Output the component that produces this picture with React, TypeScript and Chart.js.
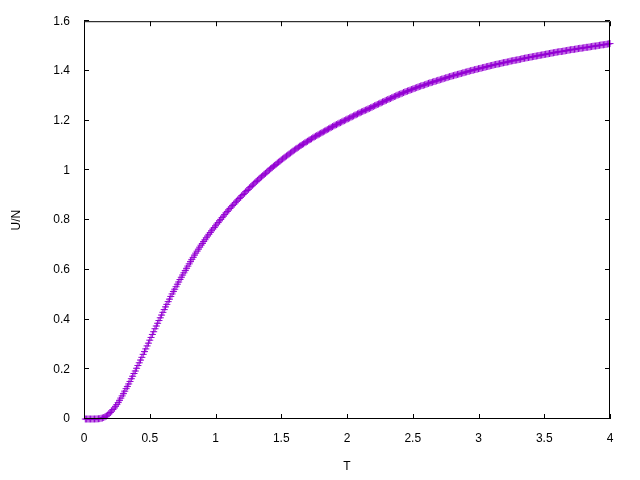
import React, { useEffect, useRef } from "react";
import { Chart, registerables } from "chart.js";

Chart.register(...registerables);

const T_VALUES = [
  0.01, 0.02, 0.03, 0.04, 0.05, 0.06, 0.07, 0.08, 0.09, 0.10,
  0.11, 0.12, 0.13, 0.14, 0.15, 0.16, 0.17, 0.18, 0.19, 0.20,
  0.21, 0.22, 0.23, 0.24, 0.25, 0.26, 0.27, 0.28, 0.29, 0.30,
  0.31, 0.32, 0.33, 0.34, 0.35, 0.36, 0.37, 0.38, 0.39, 0.40,
  0.41, 0.42, 0.43, 0.44, 0.45, 0.46, 0.47, 0.48, 0.49, 0.50,
  0.51, 0.52, 0.53, 0.54, 0.55, 0.56, 0.57, 0.58, 0.59, 0.60,
  0.61, 0.62, 0.63, 0.64, 0.65, 0.66, 0.67, 0.68, 0.69, 0.70,
  0.71, 0.72, 0.73, 0.74, 0.75, 0.76, 0.77, 0.78, 0.79, 0.80,
  0.81, 0.82, 0.83, 0.84, 0.85, 0.86, 0.87, 0.88, 0.89, 0.90,
  0.91, 0.92, 0.93, 0.94, 0.95, 0.96, 0.97, 0.98, 0.99, 1.00,
  1.01, 1.02, 1.03, 1.04, 1.05, 1.06, 1.07, 1.08, 1.09, 1.10,
  1.11, 1.12, 1.13, 1.14, 1.15, 1.16, 1.17, 1.18, 1.19, 1.20,
  1.21, 1.22, 1.23, 1.24, 1.25, 1.26, 1.27, 1.28, 1.29, 1.30,
  1.31, 1.32, 1.33, 1.34, 1.35, 1.36, 1.37, 1.38, 1.39, 1.40,
  1.41, 1.42, 1.43, 1.44, 1.45, 1.46, 1.47, 1.48, 1.49, 1.50,
  1.51, 1.52, 1.53, 1.54, 1.55, 1.56, 1.57, 1.58, 1.59, 1.60,
  1.61, 1.62, 1.63, 1.64, 1.65, 1.66, 1.67, 1.68, 1.69, 1.70,
  1.71, 1.72, 1.73, 1.74, 1.75, 1.76, 1.77, 1.78, 1.79, 1.80,
  1.81, 1.82, 1.83, 1.84, 1.85, 1.86, 1.87, 1.88, 1.89, 1.90,
  1.91, 1.92, 1.93, 1.94, 1.95, 1.96, 1.97, 1.98, 1.99, 2.00,
  2.01, 2.02, 2.03, 2.04, 2.05, 2.06, 2.07, 2.08, 2.09, 2.10,
  2.11, 2.12, 2.13, 2.14, 2.15, 2.16, 2.17, 2.18, 2.19, 2.20,
  2.21, 2.22, 2.23, 2.24, 2.25, 2.26, 2.27, 2.28, 2.29, 2.30,
  2.31, 2.32, 2.33, 2.34, 2.35, 2.36, 2.37, 2.38, 2.39, 2.40,
  2.41, 2.42, 2.43, 2.44, 2.45, 2.46, 2.47, 2.48, 2.49, 2.50,
  2.51, 2.52, 2.53, 2.54, 2.55, 2.56, 2.57, 2.58, 2.59, 2.60,
  2.61, 2.62, 2.63, 2.64, 2.65, 2.66, 2.67, 2.68, 2.69, 2.70,
  2.71, 2.72, 2.73, 2.74, 2.75, 2.76, 2.77, 2.78, 2.79, 2.80,
  2.81, 2.82, 2.83, 2.84, 2.85, 2.86, 2.87, 2.88, 2.89, 2.90,
  2.91, 2.92, 2.93, 2.94, 2.95, 2.96, 2.97, 2.98, 2.99, 3.00,
  3.01, 3.02, 3.03, 3.04, 3.05, 3.06, 3.07, 3.08, 3.09, 3.10,
  3.11, 3.12, 3.13, 3.14, 3.15, 3.16, 3.17, 3.18, 3.19, 3.20,
  3.21, 3.22, 3.23, 3.24, 3.25, 3.26, 3.27, 3.28, 3.29, 3.30,
  3.31, 3.32, 3.33, 3.34, 3.35, 3.36, 3.37, 3.38, 3.39, 3.40,
  3.41, 3.42, 3.43, 3.44, 3.45, 3.46, 3.47, 3.48, 3.49, 3.50,
  3.51, 3.52, 3.53, 3.54, 3.55, 3.56, 3.57, 3.58, 3.59, 3.60,
  3.61, 3.62, 3.63, 3.64, 3.65, 3.66, 3.67, 3.68, 3.69, 3.70,
  3.71, 3.72, 3.73, 3.74, 3.75, 3.76, 3.77, 3.78, 3.79, 3.80,
  3.81, 3.82, 3.83, 3.84, 3.85, 3.86, 3.87, 3.88, 3.89, 3.90,
  3.91, 3.92, 3.93, 3.94, 3.95, 3.96, 3.97, 3.98, 3.99, 4.00,
];

const U_VALUES = [
  0, 0, 0, 0, 0, 0, 0, 0.0001, 0.0003, 0.0005,
  0.001, 0.0015, 0.003, 0.004, 0.006, 0.009, 0.012, 0.016, 0.021, 0.026,
  0.032, 0.038, 0.044, 0.051, 0.058, 0.066, 0.075, 0.084, 0.093, 0.102,
  0.112, 0.122, 0.131, 0.141, 0.151, 0.162, 0.172, 0.183, 0.193, 0.204,
  0.215, 0.226, 0.237, 0.248, 0.260, 0.271, 0.282, 0.294, 0.305, 0.317,
  0.328, 0.340, 0.351, 0.363, 0.374, 0.385, 0.396, 0.407, 0.418, 0.429,
  0.440, 0.451, 0.461, 0.472, 0.482, 0.493, 0.503, 0.513, 0.522, 0.532,
  0.542, 0.551, 0.561, 0.570, 0.579, 0.588, 0.597, 0.606, 0.615, 0.624,
  0.633, 0.642, 0.650, 0.659, 0.667, 0.675, 0.683, 0.691, 0.699, 0.706,
  0.714, 0.721, 0.729, 0.736, 0.743, 0.750, 0.757, 0.764, 0.770, 0.777,
  0.784, 0.790, 0.797, 0.803, 0.810, 0.816, 0.822, 0.829, 0.835, 0.841,
  0.847, 0.853, 0.859, 0.864, 0.870, 0.876, 0.881, 0.887, 0.892, 0.898,
  0.903, 0.908, 0.914, 0.919, 0.924, 0.930, 0.935, 0.940, 0.945, 0.950,
  0.955, 0.960, 0.965, 0.970, 0.974, 0.979, 0.984, 0.988, 0.993, 0.998,
  1.002, 1.007, 1.011, 1.016, 1.020, 1.024, 1.029, 1.033, 1.037, 1.042,
  1.046, 1.050, 1.054, 1.058, 1.062, 1.066, 1.070, 1.074, 1.078, 1.082,
  1.086, 1.089, 1.093, 1.097, 1.100, 1.104, 1.107, 1.111, 1.114, 1.117,
  1.121, 1.124, 1.127, 1.131, 1.134, 1.137, 1.140, 1.143, 1.146, 1.149,
  1.152, 1.155, 1.158, 1.161, 1.164, 1.167, 1.170, 1.173, 1.176, 1.179,
  1.182, 1.184, 1.187, 1.190, 1.192, 1.195, 1.198, 1.200, 1.203, 1.206,
  1.208, 1.211, 1.214, 1.216, 1.219, 1.222, 1.224, 1.227, 1.230, 1.232,
  1.235, 1.237, 1.240, 1.242, 1.244, 1.247, 1.249, 1.252, 1.254, 1.257,
  1.260, 1.262, 1.265, 1.267, 1.270, 1.272, 1.275, 1.277, 1.280, 1.282,
  1.285, 1.287, 1.289, 1.292, 1.294, 1.297, 1.299, 1.302, 1.304, 1.306,
  1.308, 1.310, 1.313, 1.315, 1.317, 1.319, 1.321, 1.323, 1.325, 1.327,
  1.329, 1.331, 1.333, 1.335, 1.337, 1.339, 1.341, 1.342, 1.344, 1.346,
  1.348, 1.350, 1.352, 1.353, 1.355, 1.357, 1.358, 1.360, 1.362, 1.363,
  1.365, 1.367, 1.368, 1.370, 1.372, 1.373, 1.375, 1.377, 1.378, 1.380,
  1.381, 1.383, 1.384, 1.386, 1.387, 1.389, 1.390, 1.392, 1.393, 1.395,
  1.396, 1.398, 1.399, 1.401, 1.402, 1.403, 1.405, 1.406, 1.407, 1.409,
  1.410, 1.411, 1.413, 1.414, 1.415, 1.417, 1.418, 1.419, 1.421, 1.422,
  1.423, 1.425, 1.426, 1.427, 1.428, 1.429, 1.430, 1.432, 1.433, 1.434,
  1.435, 1.436, 1.437, 1.439, 1.440, 1.441, 1.442, 1.443, 1.444, 1.445,
  1.446, 1.447, 1.449, 1.450, 1.451, 1.452, 1.453, 1.454, 1.455, 1.456,
  1.457, 1.458, 1.459, 1.460, 1.461, 1.462, 1.463, 1.464, 1.465, 1.466,
  1.467, 1.468, 1.469, 1.470, 1.471, 1.472, 1.473, 1.474, 1.475, 1.476,
  1.477, 1.478, 1.478, 1.479, 1.480, 1.481, 1.482, 1.483, 1.484, 1.485,
  1.486, 1.486, 1.487, 1.488, 1.489, 1.490, 1.491, 1.491, 1.492, 1.493,
  1.494, 1.495, 1.495, 1.496, 1.497, 1.498, 1.499, 1.500, 1.500, 1.501,
  1.502, 1.503, 1.504, 1.505, 1.505, 1.506, 1.507, 1.508, 1.509, 1.510,
];

const X_TICKS = [0, 0.5, 1, 1.5, 2, 2.5, 3, 3.5, 4];
const Y_TICKS = [0, 0.2, 0.4, 0.6, 0.8, 1, 1.2, 1.4, 1.6];
const X_LABEL = "T";
const Y_LABEL = "U/N";
const SERIES_COLOR = "#9400D3";

const FONT = "'Liberation Sans', Arial, sans-serif";

const framePlugin = {
  id: "gnuplotFrame",
  afterDraw(chart: any) {
    const { ctx, chartArea } = chart;
    const { left, right, top, bottom } = chartArea;
    const xs = chart.scales.x;
    const ys = chart.scales.y;
    const tick = 5;
    ctx.save();
    ctx.strokeStyle = "#000";
    ctx.lineWidth = 1;
    ctx.beginPath();
    ctx.rect(left + 0.5, top + 0.5, right - left - 1, bottom - top - 1);
    X_TICKS.forEach((v) => {
      const px = Math.round(xs.getPixelForValue(v)) + 0.5;
      ctx.moveTo(px, bottom);
      ctx.lineTo(px, bottom - tick);
      ctx.moveTo(px, top);
      ctx.lineTo(px, top + tick);
    });
    Y_TICKS.forEach((v) => {
      const py = Math.round(ys.getPixelForValue(v)) - 0.5;
      ctx.moveTo(left, py);
      ctx.lineTo(left + tick, py);
      ctx.moveTo(right, py);
      ctx.lineTo(right - tick, py);
    });
    ctx.stroke();
    ctx.restore();
  },
};

export default function App() {
  const ref = useRef<HTMLCanvasElement | null>(null);

  useEffect(() => {
    if (!ref.current) return;
    const points = T_VALUES.map((t, i) => ({ x: t, y: U_VALUES[i] }));
    const chart = new Chart(ref.current, {
      type: "scatter",
      data: {
        datasets: [
          {
            data: points,
            showLine: false,
            pointStyle: "cross",
            pointRadius: 3.5,
            pointBorderWidth: 1,
            pointBorderColor: SERIES_COLOR,
            pointBackgroundColor: SERIES_COLOR,
            clip: false as any,
          },
        ],
      },
      options: {
        responsive: false,
        animation: false,
        layout: { padding: { left: 0, top: 20, right: 30, bottom: 0 } },
        plugins: {
          legend: { display: false },
          tooltip: { enabled: false },
        },
        scales: {
          x: {
            type: "linear",
            min: 0,
            max: 4,
            afterFit: (s: any) => {
              s.height = 61;
            },
            afterBuildTicks: (s: any) => {
              s.ticks = X_TICKS.map((v) => ({ value: v }));
            },
            grid: { display: false, drawTicks: false },
            border: { display: false },
            ticks: {
              padding: 12,
              color: "#000",
              font: { family: FONT, size: 12 },
              callback: (v: any) => String(+Number(v).toFixed(2)),
              maxRotation: 0,
            },
            title: {
              display: true,
              text: X_LABEL,
              color: "#000",
              font: { family: FONT, size: 12 },
              padding: { top: 0, bottom: 6 },
            },
          },
          y: {
            type: "linear",
            min: 0,
            max: 1.6,
            afterFit: (s: any) => {
              s.width = 84;
            },
            afterBuildTicks: (s: any) => {
              s.ticks = Y_TICKS.map((v) => ({ value: v }));
            },
            grid: { display: false, drawTicks: false },
            border: { display: false },
            ticks: {
              padding: 14,
              color: "#000",
              font: { family: FONT, size: 12 },
              callback: (v: any) => String(+Number(v).toFixed(2)),
            },
            title: {
              display: true,
              text: Y_LABEL,
              color: "#000",
              font: { family: FONT, size: 12 },
              padding: { top: 9, bottom: 0 },
            },
          },
        },
      },
      plugins: [framePlugin],
    });
    return () => chart.destroy();
  }, []);

  return (
    <div style={{ position: "fixed", left: 0, top: 0, width: 640, height: 480, background: "#fff" }}>
      <canvas ref={ref} width={640} height={480} style={{ width: 640, height: 480 }} />
    </div>
  );
}
